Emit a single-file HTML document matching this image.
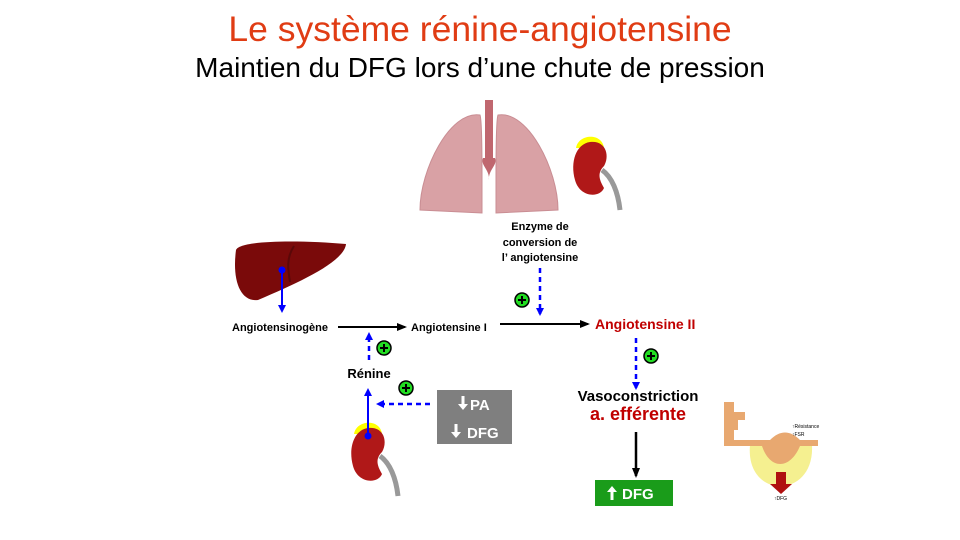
<!DOCTYPE html>
<html><head><meta charset="utf-8"><style>
body{margin:0;background:#fff;}
svg{display:block;font-family:"Liberation Sans",Arial,sans-serif;}
</style></head><body>
<svg width="960" height="540" viewBox="0 0 960 540">
<defs>
<marker id="ab" markerWidth="8" markerHeight="8" refX="6" refY="4" orient="auto" markerUnits="userSpaceOnUse"><path d="M0,0 L8,4 L0,8 Z" fill="#0000ff"/></marker>
<marker id="ak" markerWidth="10" markerHeight="8" refX="8" refY="4" orient="auto" markerUnits="userSpaceOnUse"><path d="M0,0 L10,4 L0,8 Z" fill="#000"/></marker>
<g id="plus"><circle r="7" fill="#22dd22" stroke="#000" stroke-width="1.5"/><path d="M-4,0H4M0,-4V4" stroke="#000" stroke-width="2"/></g>
<g id="kidney"><path d="M30,38 C40,45 46,60 48,78" stroke="#999" stroke-width="5" fill="none"/><path d="M4,16 C6,2 30,0 32,16 Z" fill="#ffff00"/><path d="M18,10 C34,8 38,24 32,34 C26,40 26,46 32,56 C28,66 8,66 3,48 C-2,30 4,12 18,10 Z" fill="#b01818"/></g>
<g id="arrd"><path d="M-1.5,-7 H1.5 V1 H5 L0,7 L-5,1 H-1.5 Z" fill="#fff"/></g>
</defs>
<text x="480" y="41" text-anchor="middle" font-size="35.5" fill="#e03c14">Le système rénine-angiotensine</text>
<text x="480" y="77" text-anchor="middle" font-size="28" fill="#000">Maintien du DFG lors d’une chute de pression</text>

<g>
<rect x="485" y="100" width="8" height="60" fill="#c0676f"/>
<path d="M483,158 C480,165 490,170 489,180 C488,170 498,165 495,158 Z" fill="#c0676f"/>
<path d="M480,115 C450,110 420,170 420,210 L482,213 L482,175 C482,160 482,120 480,115 Z" fill="#d9a1a5" stroke="#c98d93"/>
<path d="M498,115 C528,110 558,170 558,210 L496,213 L496,175 C496,160 496,120 498,115 Z" fill="#d9a1a5" stroke="#c98d93"/>
</g>
<use href="#kidney" x="572" y="132"/>

<g>
<path d="M236,250 C240,240 300,240 346,244 C344,262 300,282 258,300 C240,302 232,280 236,250 Z" fill="#7a0a0a"/>
<path d="M294,246 C286,258 288,270 290,282" stroke="#5a0808" stroke-width="2" fill="none"/>
</g>
<line x1="282" y1="270" x2="282" y2="311" stroke="#0000ff" stroke-width="2" marker-end="url(#ab)"/>
<circle cx="282" cy="270" r="3.5" fill="#0000ff"/>

<text x="280" y="331" text-anchor="middle" font-size="11" font-weight="bold">Angiotensinogène</text>
<line x1="338" y1="327" x2="405" y2="327" stroke="#000" stroke-width="2" marker-end="url(#ak)"/>
<text x="411" y="331" font-size="11" font-weight="bold">Angiotensine  I</text>
<line x1="500" y1="324" x2="588" y2="324" stroke="#000" stroke-width="2" marker-end="url(#ak)"/>
<text x="595" y="329" font-size="14" font-weight="bold" fill="#c00000">Angiotensine II</text>

<g font-size="11" font-weight="bold" text-anchor="middle">
<text x="540" y="230">Enzyme  de</text><text x="540" y="246">conversion de</text><text x="540" y="261">l’ angiotensine</text></g>
<line x1="540" y1="268" x2="540" y2="314" stroke="#0000ff" stroke-width="2.5" stroke-dasharray="5,4" marker-end="url(#ab)"/>
<use href="#plus" x="522" y="300"/>

<text x="369" y="378" text-anchor="middle" font-size="13" font-weight="bold">Rénine</text>
<line x1="369" y1="360" x2="369" y2="334" stroke="#0000ff" stroke-width="2.5" stroke-dasharray="5,4" marker-end="url(#ab)"/>
<use href="#plus" x="384" y="348"/>
<use href="#plus" x="406" y="388"/>
<line x1="430" y1="404" x2="378" y2="404" stroke="#0000ff" stroke-width="2.5" stroke-dasharray="5,4" marker-end="url(#ab)"/>
<rect x="437" y="390" width="75" height="54" fill="#7f7f7f"/>
<use href="#arrd" x="463" y="403"/>
<text x="470" y="410" font-size="15" font-weight="bold" fill="#fff">PA</text>
<use href="#arrd" x="456" y="431"/>
<text x="467" y="438" font-size="15" font-weight="bold" fill="#fff">DFG</text>
<use href="#kidney" x="350" y="418"/>
<line x1="368" y1="436" x2="368" y2="390" stroke="#0000ff" stroke-width="2" marker-end="url(#ab)"/>
<circle cx="368" cy="436" r="3.5" fill="#0000ff"/>

<line x1="636" y1="338" x2="636" y2="388" stroke="#0000ff" stroke-width="2.5" stroke-dasharray="5,4" marker-end="url(#ab)"/>
<use href="#plus" x="651" y="356"/>
<text x="638" y="401" text-anchor="middle" font-size="15" font-weight="bold">Vasoconstriction</text>
<text x="638" y="420" text-anchor="middle" font-size="18" font-weight="bold" fill="#c00000">a. efférente</text>
<line x1="636" y1="432" x2="636" y2="476" stroke="#000" stroke-width="2.5" marker-end="url(#ak)"/>
<rect x="595" y="480" width="78" height="26" fill="#1a9c1a"/>
<use href="#arrd" x="612" y="493" transform="rotate(180 612 493)"/>
<text x="622" y="499" font-size="15" font-weight="bold" fill="#fff">DFG</text>

<g>
<path d="M750,445 C745,500 815,500 812,445 Z" fill="#f5f090"/>
<path d="M724,402 H734 V440 H770 C780,430 790,430 800,440 H818 V446 H800 C790,470 770,470 762,446 H724 Z" fill="#e8a870"/>
<path d="M734,412 H745 V420 H738 V430 H734 Z" fill="#e8a870"/>
<rect x="776" y="472" width="10" height="12" fill="#b01010"/><path d="M770,484 H792 L781,494 Z" fill="#b01010"/>
<text x="792" y="428" font-size="5">↑Résistance</text><text x="792" y="436" font-size="5">↑FSR</text>
<text x="774" y="500" font-size="5">↑DFG</text>
</g>
</svg>
</body></html>
